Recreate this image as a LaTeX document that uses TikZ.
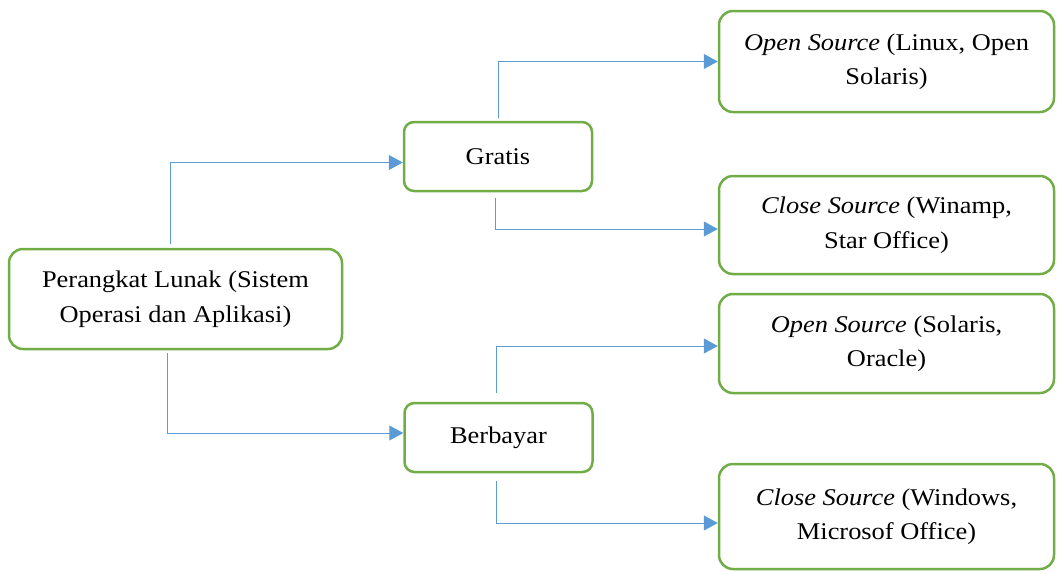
\documentclass[tikz,border=0pt]{standalone}
\usepackage{fontspec}
\setmainfont{Liberation Serif}[FakeStretch=1.1]
\usetikzlibrary{arrows.meta}

\definecolor{boxgreen}{RGB}{112,173,71}
\definecolor{lineblue}{RGB}{91,155,213}

\begin{document}
\begin{tikzpicture}[
      x=1pt, y=1pt,
      font=\rmfamily\fontsize{24}{34.5}\selectfont,
      main box/.style={draw=boxgreen, line width=2.5pt, rounded corners=14pt, fill=white, align=center, inner sep=0pt},
      small box/.style={main box, rounded corners=10pt, minimum width=188pt, minimum height=69pt},
      leaf box/.style={main box, minimum width=335pt},
      link/.style={draw=lineblue, line width=1pt, -{Triangle[length=14pt,width=15pt]}},
  ]

  \useasboundingbox (0,0) rectangle (1057,-573);

  % Kotak utama di kiri
  \node[main box, minimum width=333pt, minimum height=100pt] (perangkat) at (175.5,-299)
      {Perangkat Lunak (Sistem\\Operasi dan Aplikasi)};

  % Dua kategori: gratis dan berbayar
  \node[small box] (gratis) at (498,-156.5) {Gratis};
  \node[small box] (berbayar) at (498.5,-437.5) {Berbayar};

  % Kotak contoh perangkat lunak di kanan
  \node[leaf box, minimum height=101pt] (os-gratis) at (886.5,-61.5)
      {\textit{Open Source} (Linux, Open\\Solaris)};
  \node[leaf box, minimum height=98pt] (cs-gratis) at (886.5,-225)
      {\textit{Close Source} (Winamp,\\Star Office)};
  \node[leaf box, minimum height=99pt] (os-bayar) at (886.5,-343.5)
      {\textit{Open Source} (Solaris,\\Oracle)};
  \node[leaf box, minimum height=105pt] (cs-bayar) at (886.5,-516.5)
      {\textit{Close Source} (Windows,\\Microsof Office)};

  % Panah dari kotak utama
  \draw[link, shorten <=4pt] ([xshift=-5.5pt]perangkat.north) |- ([yshift=-6pt]gratis.west);
  \draw[link, shorten <=3pt] ([xshift=-8.5pt]perangkat.south) |- ([yshift=4.5pt]berbayar.west);

  % Panah ke kotak kanan
  \draw[link, shorten <=2.5pt] (gratis.north) |- (os-gratis.west);
  \draw[link, shorten <=6pt] ([xshift=-3pt]gratis.south) |- ([yshift=-4pt]cs-gratis.west);
  \draw[link, shorten <=9pt] ([xshift=-2.5pt]berbayar.north) |- ([yshift=-2.5pt]os-bayar.west);
  \draw[link, shorten <=8pt] ([xshift=-2.5pt]berbayar.south) |- ([yshift=-6.5pt]cs-bayar.west);

\end{tikzpicture}
\end{document}
